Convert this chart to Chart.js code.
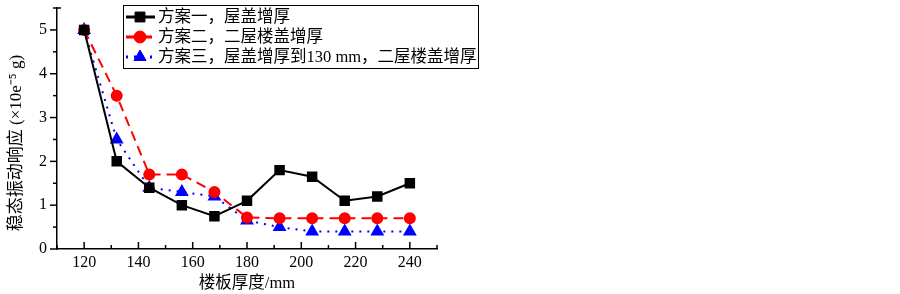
<!DOCTYPE html>
<html>
<head>
<meta charset="utf-8">
<script src="https://cdn.jsdelivr.net/npm/chart.js@4.4.1/dist/chart.umd.min.js"></script>
<style>
  html, body { margin: 0; padding: 0; background: #fff; }
  #wrap { width: 900px; height: 294px; position: relative; }
</style>
</head>
<body>
<div id="wrap"><canvas id="vibChart" width="900" height="294"></canvas></div>
<script>
// --- DATA ---
const thickness = [120, 132, 144, 156, 168, 180, 192, 204, 216, 228, 240];
const plan1 = [5.0, 2.0, 1.4, 1.0, 0.75, 1.1, 1.8, 1.65, 1.1, 1.2, 1.5];
const plan2 = [5.0, 3.5, 1.7, 1.7, 1.3, 0.72, 0.7, 0.7, 0.7, 0.7, 0.7];
const plan3 = [5.0, 2.5, 1.4, 1.3, 1.2, 0.65, 0.5, 0.4, 0.4, 0.4, 0.4];
const seriesNames = ["方案一，屋盖增厚", "方案二，二屋楼盖增厚", "方案三，屋盖增厚到130 mm，二屋楼盖增厚"];
const xTicks = [120, 140, 160, 180, 200, 220, 240];
const yTicks = [0, 1, 2, 3, 4, 5];
const yTitle = '稳态振动响应 (×10e⁻⁵ g)';

const SERIF = "'Liberation Serif', 'Times New Roman', 'Noto Sans CJK SC', serif";
const MIXED = "'Liberation Serif', 'Noto Sans CJK SC', serif";

function toPoints(vals) {
    return vals.map((v, i) => ({ x: thickness[i], y: v }));
}

// ticks: x inward, y outward, with minor ticks; plus y title
const axisTicks = {
    id: 'axisTicks',
    afterDraw(chart) {
        const ctx = chart.ctx;
        const xs = chart.scales.x, ys = chart.scales.y;
        const area = chart.chartArea;
        ctx.save();
        ctx.strokeStyle = '#000';
        ctx.lineWidth = 1.5;
        for (let v = 110; v <= 250; v += 10) {
            const px = xs.getPixelForValue(v);
            const len = (v % 20 === 0) ? 7 : 4;
            ctx.beginPath();
            ctx.moveTo(px, area.bottom);
            ctx.lineTo(px, area.bottom - len);
            ctx.stroke();
        }
        for (let v = 0; v <= 5.5; v += 0.5) {
            const py = ys.getPixelForValue(v);
            const len = (v % 1 === 0) ? 7 : 4;
            ctx.beginPath();
            ctx.moveTo(area.left, py);
            ctx.lineTo(area.left - len, py);
            ctx.stroke();
        }
        // top cap
        ctx.beginPath();
        ctx.moveTo(area.left, area.top);
        ctx.lineTo(area.left + 4, area.top);
        ctx.stroke();

        // y title, sits a bit lower than plot centre like the original
        ctx.translate(17, 143);
        ctx.rotate(-Math.PI / 2);
        ctx.fillStyle = '#000';
        ctx.font = "17px " + MIXED;
        ctx.textAlign = 'center';
        ctx.textBaseline = 'middle';
        ctx.fillText(yTitle, 0, 0);
        ctx.restore();
    }
};

// boxed legend on top-right of plot
const boxLegend = {
    id: 'boxLegend',
    afterDraw(chart) {
        const ctx = chart.ctx;
        const bx = 123, by = 5, bw = 355, bh = 63;
        ctx.save();
        ctx.fillStyle = '#fff';
        ctx.fillRect(bx, by, bw, bh);
        ctx.strokeStyle = '#000';
        ctx.lineWidth = 1;
        ctx.strokeRect(bx + 0.5, by + 0.5, bw, bh);
        chart.data.datasets.forEach((ds, i) => {
            const cy = by + 12 + i * 20;
            ctx.strokeStyle = ds.borderColor;
            ctx.lineWidth = 3;
            ctx.setLineDash(ds.borderDash || []);
            ctx.beginPath();
            ctx.moveTo(bx + 3, cy);
            ctx.lineTo(bx + 32, cy);
            ctx.stroke();
            ctx.setLineDash([]);
            ctx.fillStyle = ds.borderColor;
            ctx.lineWidth = 1;
            Chart.helpers.drawPoint(ctx, {
                pointStyle: ds.pointStyle, radius: ds.pointRadius + 1, borderWidth: 1
            }, bx + 17, cy);
            ctx.fillStyle = '#000';
            ctx.font = "16.5px " + MIXED;
            ctx.textBaseline = 'middle';
            ctx.fillText(ds.label, bx + 35, cy + 1);
        });
        ctx.restore();
    }
};

function styleSet(label, vals, color, style, radius, dash) {
    return {
        label: label,
        data: toPoints(vals),
        borderColor: color,
        backgroundColor: color,
        pointBackgroundColor: color,
        pointBorderColor: color,
        pointStyle: style,
        pointRadius: radius,
        pointHoverRadius: radius,
        borderWidth: 2,
        borderDash: dash,
        tension: 0
    };
}

const ctx = document.getElementById('vibChart').getContext('2d');
new Chart(ctx, {
    type: 'line',
    data: {
        datasets: [
            styleSet(seriesNames[0], plan1, '#000000', 'rect', 6, []),
            styleSet(seriesNames[1], plan2, '#ff0000', 'circle', 5, [10, 6]),
            styleSet(seriesNames[2], plan3, '#0000ff', 'triangle', 6, [2, 6])
        ]
    },
    options: {
        responsive: false,
        animation: false,
        layout: { padding: { left: 0, right: 463, top: 3, bottom: 0 } },
        plugins: { legend: { display: false }, tooltip: { enabled: false } },
        scales: {
            x: {
                type: 'linear',
                min: 110, max: 250,
                afterBuildTicks: s => { s.ticks = xTicks.map(v => ({ value: v })); },
                afterFit: s => { s.height = 45; s.paddingLeft = 0; s.paddingRight = 0; },
                grid: { display: false, drawTicks: false },
                border: { display: true, color: '#000', width: 1.5 },
                ticks: { color: '#000', padding: 4, font: { family: SERIF, size: 16 } },
                title: {
                    display: true, text: '楼板厚度/mm', color: '#000',
                    font: { family: MIXED, size: 16.5 }, padding: { top: 0, bottom: 0 }
                }
            },
            y: {
                min: 0, max: 5.5,
                afterBuildTicks: s => { s.ticks = yTicks.map(v => ({ value: v })); },
                afterFit: s => { s.width = 57; s.paddingTop = 0; s.paddingBottom = 0; },
                grid: { display: false, drawTicks: false },
                border: { display: true, color: '#000', width: 1.5 },
                ticks: { color: '#000', padding: 10, font: { family: SERIF, size: 16 } },
                title: { display: false }
            }
        }
    },
    plugins: [axisTicks, boxLegend]
});
</script>
</body>
</html>
